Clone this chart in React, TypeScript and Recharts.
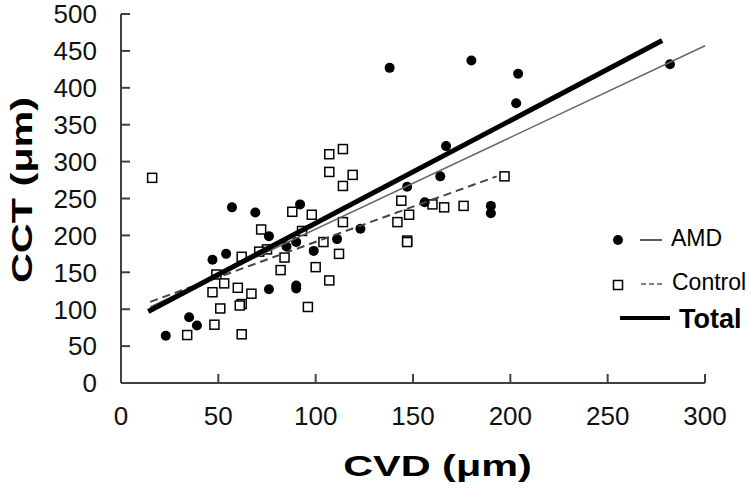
import React from "react";
import { ScatterChart, Scatter, XAxis, YAxis } from "recharts";

// AMD group (filled circles)
const amdCVD = [23, 35, 39, 47, 54, 57, 69, 76, 76, 85, 90, 92, 90, 90, 99, 111, 123, 138, 147, 156, 164, 167, 180, 190, 190, 203, 204, 282];
const amdCCT = [64, 89, 78, 167, 175, 238, 231, 199, 127, 185, 191, 242, 132, 128, 179, 195, 209, 427, 266, 245, 280, 321, 437, 240, 230, 379, 419, 432];

// Control group (open squares)
const ctlCVD = [16, 107, 114, 107, 114, 119, 197, 144, 88, 98, 72, 114, 93, 75, 71, 104, 84, 62, 49, 82, 112, 100, 53, 60, 47, 67, 107, 62, 61, 51, 96, 48, 34, 62, 148, 142, 147, 147, 160, 166, 176];
const ctlCCT = [278, 310, 317, 286, 267, 282, 280, 247, 232, 228, 208, 218, 206, 181, 178, 191, 170, 171, 147, 153, 175, 157, 135, 129, 123, 121, 139, 107, 105, 101, 103, 79, 65, 66, 228, 218, 193, 191, 242, 238, 240];

// regression line end points
const amdFitCVD = [15, 300];
const amdFitCCT = [103, 457];
const ctlFitCVD = [15, 193];
const ctlFitCCT = [110, 280];
const totalFitCVD = [14, 278];
const totalFitCCT = [97, 464];

const xTicks = [0, 50, 100, 150, 200, 250, 300];
const yTicks = [0, 50, 100, 150, 200, 250, 300, 350, 400, 450, 500];

const zip = (xs: number[], ys: number[]) => xs.map((x, i) => ({ x, y: ys[i] }));

const amdData = zip(amdCVD, amdCCT);
const ctlData = zip(ctlCVD, ctlCCT);
const amdFit = zip(amdFitCVD, amdFitCCT);
const ctlFit = zip(ctlFitCVD, ctlFitCCT);
const totalFit = zip(totalFitCVD, totalFitCCT);

const FONT = "'Liberation Sans', Arial, sans-serif";
const AXIS = "#404040";

const Dot = (p: any) => <circle cx={p.cx} cy={p.cy} r={5} fill="#000" />;
const Box = (p: any) => (
  <rect x={p.cx - 4.5} y={p.cy - 4.5} width={9} height={9} fill="#fff" stroke="#000" strokeWidth={1.5} />
);
const NoShape = () => <g />;

const YTick = (p: any) => (
  <g>
    <line x1={p.x} x2={p.x + 9} y1={p.y} y2={p.y} stroke={AXIS} strokeWidth={2} />
    <text x={p.x - 24} y={p.y} dy="0.36em" textAnchor="end" fontSize={26} fontFamily={FONT} fill="#111">
      {p.payload.value}
    </text>
  </g>
);

const XTick = (p: any) => (
  <g>
    <line x1={p.x} x2={p.x} y1={p.y} y2={p.y - 9} stroke={AXIS} strokeWidth={2} />
    <text x={p.x} y={p.y + 33} dy="0.36em" textAnchor="middle" fontSize={26} fontFamily={FONT} fill="#111">
      {p.payload.value}
    </text>
  </g>
);

const XTitle = (p: any) => {
  const vb = p.viewBox;
  return (
    <text
      transform={`translate(${vb.x + 316.5},${vb.y + 93}) scale(1.38,1)`}
      textAnchor="middle"
      fontSize={30}
      fontWeight="bold"
      fontFamily={FONT}
      fill="#000"
    >
      CVD (μm)
    </text>
  );
};

const YTitle = (p: any) => {
  const vb = p.viewBox;
  return (
    <text
      transform={`translate(32,${vb.y + 176}) rotate(-90) scale(1.38,1)`}
      textAnchor="middle"
      fontSize={30}
      fontWeight="bold"
      fontFamily={FONT}
      fill="#000"
    >
      CCT (μm)
    </text>
  );
};

const Key = () => (
  <svg width={750} height={493} style={{ position: "absolute", left: 0, top: 0, overflow: "visible" }}>
    <circle cx={618} cy={240} r={5} fill="#000" />
    <line x1={640} x2={662} y1={240} y2={240} stroke="#222" strokeWidth={1.5} />
    <text x={671} y={238} dy="0.36em" fontSize={23} fontFamily={FONT} fill="#000">AMD</text>
    <rect x={613.5} y={280.5} width={9} height={9} fill="#fff" stroke="#000" strokeWidth={1.5} />
    <line x1={641} x2={663} y1={284} y2={284} stroke="#555" strokeWidth={1.5} strokeDasharray="5 3" />
    <text x={672} y={282} dy="0.36em" fontSize={23} fontFamily={FONT} fill="#000">Control</text>
    <line x1={620} x2={670} y1={318} y2={318} stroke="#000" strokeWidth={4} />
    <text x={679} y={318} dy="0.36em" fontSize={27} fontWeight="bold" fontFamily={FONT} fill="#000">Total</text>
  </svg>
);

export default function App() {
  return (
    <div style={{ position: "absolute", left: 0, top: 0, width: 750, height: 493, background: "#fff" }}>
      <ScatterChart width={750} height={493} margin={{ top: 14, right: 45, bottom: 0, left: 0 }}>
        <XAxis
          type="number"
          dataKey="x"
          domain={[0, 300]}
          ticks={xTicks}
          height={110}
          tickSize={0}
          tickMargin={0}
          tickLine={false}
          tick={<XTick />}
          axisLine={{ stroke: AXIS, strokeWidth: 2 }}
          label={{ content: XTitle }}
          interval={0}
        />
        <YAxis
          type="number"
          dataKey="y"
          domain={[0, 500]}
          ticks={yTicks}
          width={121}
          tickSize={0}
          tickMargin={0}
          tickLine={false}
          tick={<YTick />}
          axisLine={{ stroke: AXIS, strokeWidth: 2 }}
          label={{ content: YTitle }}
          interval={0}
        />
        <Scatter data={ctlData} shape={Box} isAnimationActive={false} />
        <Scatter data={amdData} shape={Dot} isAnimationActive={false} />
        <Scatter data={amdFit} shape={NoShape} line={{ stroke: "#666", strokeWidth: 1.5 }} isAnimationActive={false} />
        <Scatter
          data={ctlFit}
          shape={NoShape}
          line={{ stroke: "#444", strokeWidth: 2, strokeDasharray: "8 5" }}
          isAnimationActive={false}
        />
        <Scatter data={totalFit} shape={NoShape} line={{ stroke: "#000", strokeWidth: 5 }} isAnimationActive={false} />
      </ScatterChart>
      <Key />
    </div>
  );
}
